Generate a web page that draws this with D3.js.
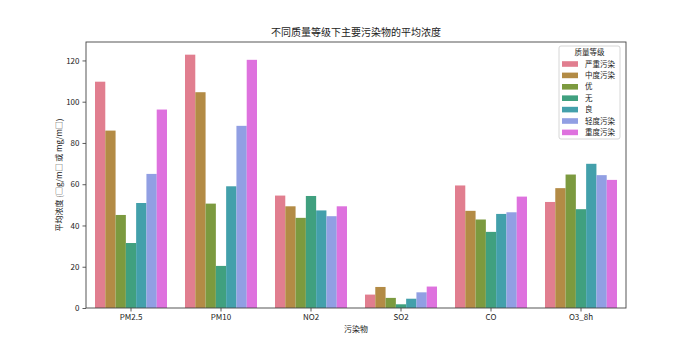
<!DOCTYPE html>
<html>
<head>
<meta charset="utf-8">
<script src="https://cdn.jsdelivr.net/npm/d3@7"></script>
<style>
  body { margin: 0; background: #fff; }
  text { font-family: "Noto Sans CJK SC", "DejaVu Sans", sans-serif; fill: #222; }
</style>
</head>
<body>
<svg id="chart" width="693" height="346"></svg>
<script>

// data
const pollutants = ["PM2.5", "PM10", "NO2", "SO2", "CO", "O3_8h"];
const levels = ["严重污染", "中度污染", "优", "无", "良", "轻度污染", "重度污染"];
const colors = ["#e17e8f", "#b38b45", "#7c9a3f", "#40a07f", "#43a0ab", "#919fe3", "#de72de"];

const sev = [109.7, 122.8, 54.5, 6.5, 59.4, 51.4];   // 严重污染
const mid = [86.0, 104.6, 49.3, 10.2, 47.1, 58.1];   // 中度污染
const you = [45.1, 50.6, 43.7, 4.9, 42.9, 64.7];     // 优
const wu = [31.5, 20.4, 54.3, 1.8, 36.9, 47.9];      // 无
const liang = [50.9, 59.0, 47.3, 4.5, 45.6, 69.9];   // 良
const light = [65.0, 88.3, 44.5, 7.6, 46.4, 64.4];   // 轻度污染
const heavy = [96.2, 120.3, 49.3, 10.4, 54.0, 62.1]; // 重度污染

const series = [sev, mid, you, wu, liang, light, heavy];
const yTicks = [0, 20, 40, 60, 80, 100, 120];

const margin = {left: 86, top: 42, right: 67, bottom: 38};
const W = 693, H = 346;
const w = W - margin.left - margin.right;
const h = H - margin.top - margin.bottom;

const svg = d3.select("#chart");
const g = svg.append("g")
    .attr("transform", `translate(${margin.left}, ${margin.top})`);

const x0 = d3.scaleBand().domain(pollutants).range([0, w]).paddingInner(0.2).paddingOuter(0.1);
const x1 = d3.scaleBand().domain(levels).range([0, x0.bandwidth()]);
const yMax = d3.max(series.flat()) * 1.05;
const y = d3.scaleLinear().domain([0, yMax]).range([h, 0]);

const color = d3.scaleOrdinal().domain(levels).range(colors);

//
// BARS
//

const rows = [];
levels.forEach((lv, i) => {
    pollutants.forEach((p, j) => rows.push({level: lv, pollutant: p, value: series[i][j]}));
});

g.append("g")
    .attr("class", "bars")
    .selectAll("rect")
    .data(rows)
    .enter().append("rect")
        .attr("x", d => x0(d.pollutant) + x1(d.level))
        .attr("y", d => y(d.value))
        .attr("width", x1.bandwidth())
        .attr("height", d => y(0) - y(d.value))
        .style("fill", d => color(d.level));

//
// AXES
//

const xAxis = g.append("g")
    .attr("transform", `translate(0, ${h})`)
    .call(d3.axisBottom(x0).tickSizeOuter(0).tickSize(3.5).tickPadding(3));

const yAxis = g.append("g")
    .call(d3.axisLeft(y).tickValues(yTicks).tickSizeOuter(0).tickSize(3.5).tickPadding(3));

[xAxis, yAxis].forEach(a => {
    a.select(".domain").remove();
    a.selectAll("line").attr("stroke", "#333").attr("stroke-width", 0.8);
    a.selectAll("text").style("font-size", "8px").style("fill", "#222");
});

g.append("rect")
    .attr("width", w)
    .attr("height", h)
    .style("fill", "none")
    .style("stroke", "#444")
    .style("stroke-width", 0.9);

//
// TEXTS
//

svg.append("text")
    .attr("x", margin.left + w / 2)
    .attr("y", 36)
    .style("text-anchor", "middle")
    .style("font-size", "10px")
    .text("不同质量等级下主要污染物的平均浓度");

svg.append("text")
    .attr("x", margin.left + w / 2)
    .attr("y", 332)
    .style("text-anchor", "middle")
    .style("font-size", "8px")
    .text("污染物");

svg.append("text")
    .attr("transform", `translate(62, ${margin.top + h / 2}) rotate(-90)`)
    .style("text-anchor", "middle")
    .style("font-size", "8px")
    .text("平均浓度 (□g/m□ 或 mg/m□)");

//
// LEGEND
//

const lg = svg.append("g")
    .attr("transform", `translate(559, 46)`);

lg.append("rect")
    .attr("width", 61)
    .attr("height", 93)
    .attr("rx", 2)
    .style("fill", "white")
    .style("fill-opacity", 0.8)
    .style("stroke", "#ccc")
    .style("stroke-width", 0.8);

lg.append("text")
    .attr("x", 30.5)
    .attr("y", 9)
    .style("text-anchor", "middle")
    .style("font-size", "7.5px")
    .text("质量等级");

const items = lg.selectAll(".item")
    .data(levels)
    .enter().append("g")
        .attr("class", "item")
        .attr("transform", (d, i) => `translate(3, ${18 + i * 11.4})`);

items.append("rect")
    .attr("y", -2.8)
    .attr("width", 16)
    .attr("height", 5.6)
    .style("fill", d => color(d));

items.append("text")
    .attr("x", 23)
    .attr("dy", "0.35em")
    .style("font-size", "7.5px")
    .text(d => d);

</script>
</body>
</html>
